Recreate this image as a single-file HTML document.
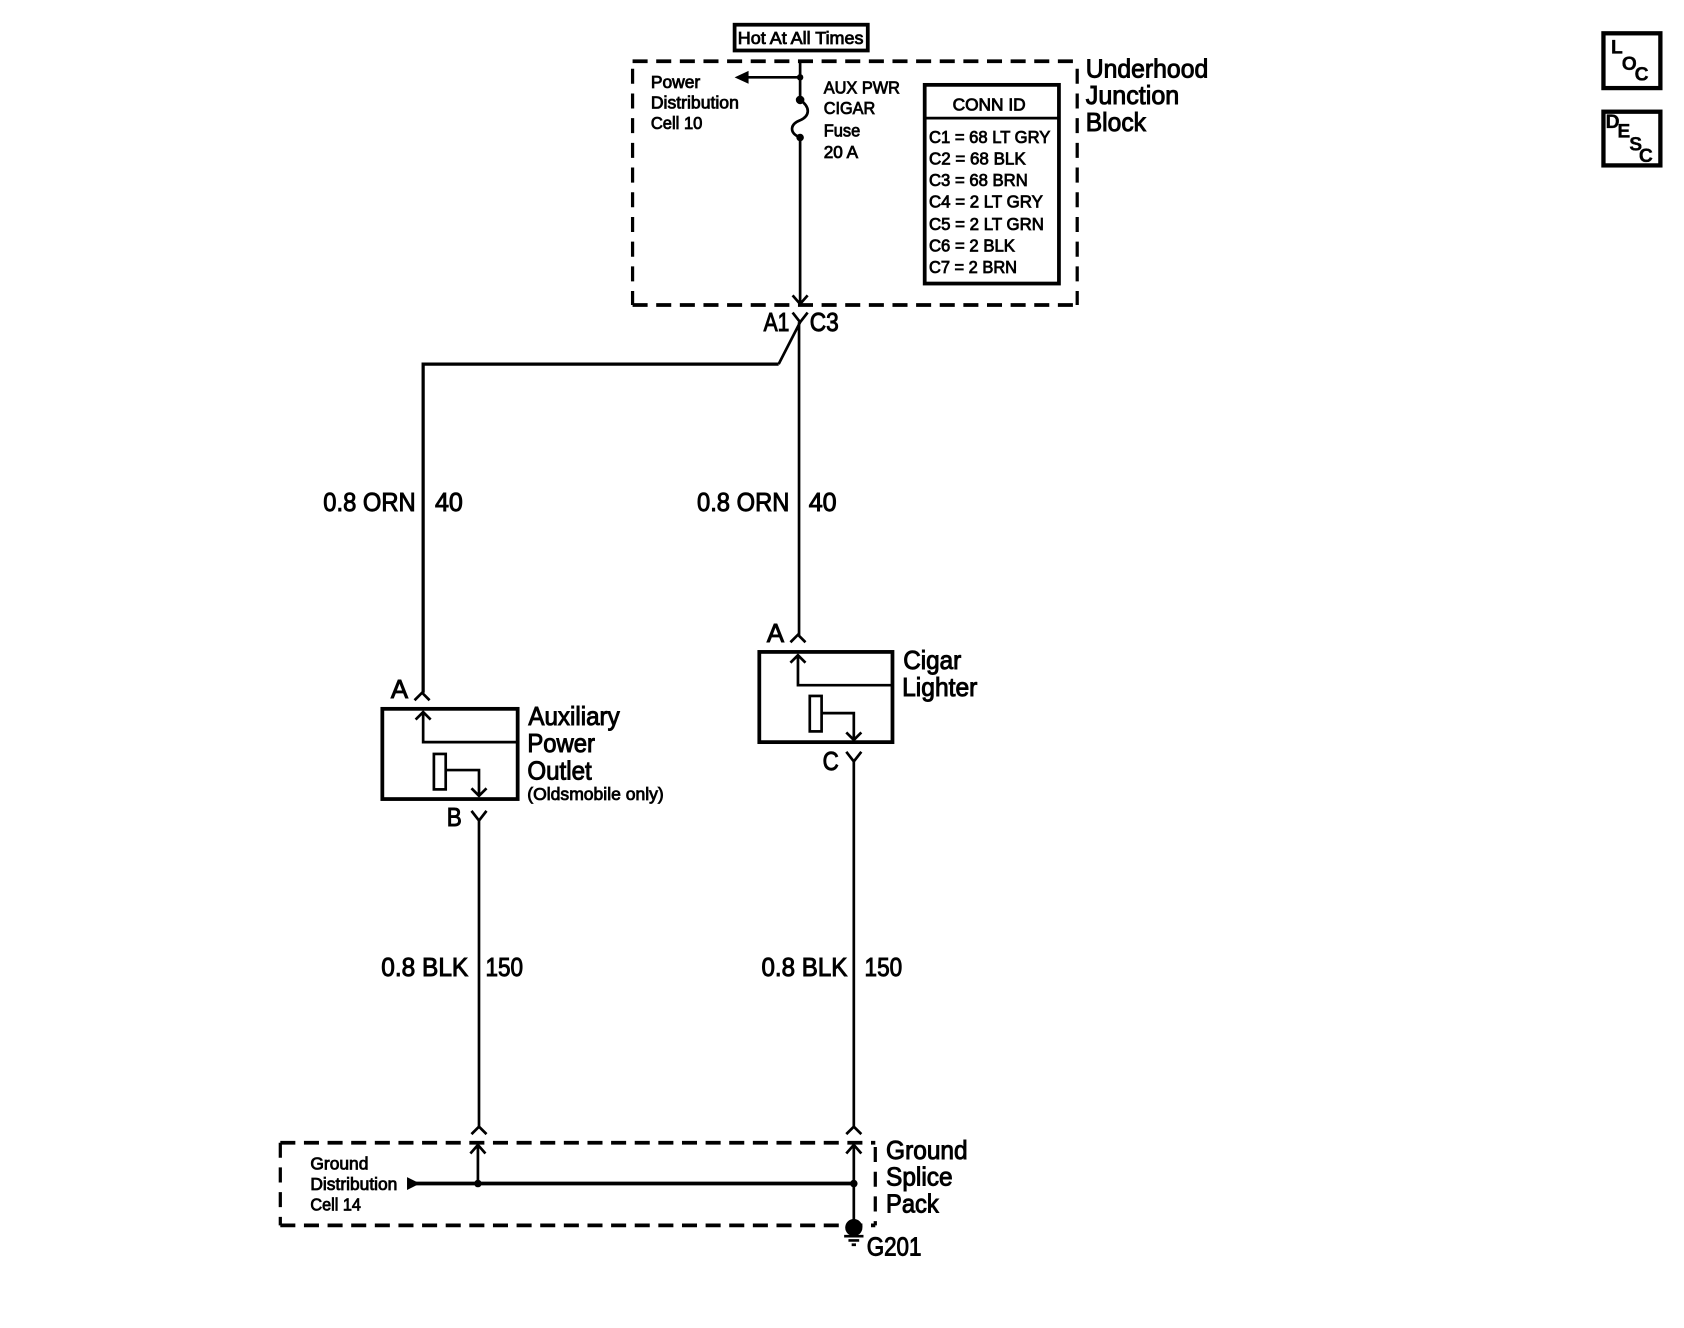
<!DOCTYPE html>
<html><head><meta charset="utf-8"><style>
html,body{margin:0;padding:0;background:#fff;width:1684px;height:1328px;overflow:hidden}
svg{display:block}
text{font-family:"Liberation Sans",sans-serif;fill:#000;stroke:#000}
.l{font-size:24px;stroke-width:.9}.s{font-size:16px;stroke-width:.75}.t{font-size:18px;font-weight:bold;stroke-width:.3}
.w{fill:none;stroke:#000;stroke-width:2.5}
.d{fill:none;stroke:#000;stroke-width:3.5;stroke-dasharray:14 8}
.e{fill:none;stroke:#000;stroke-width:3;stroke-dasharray:14 9}
.b{fill:none;stroke:#000;stroke-width:3.5}
</style></head><body>
<svg width="1684" height="1328" viewBox="0 0 1568 1236.5" xmlns="http://www.w3.org/2000/svg">
<rect x="684" y="23" width="124" height="24" class="b"/>
<text class="s" x="687" y="41" textLength="117" lengthAdjust="spacingAndGlyphs">Hot At All Times</text>
<path class="d" d="M589 57H1003M589 284H1003"/>
<path class="e" d="M589 64V284M1003 64V284"/>
<path class="w" d="M745 57V93M745 72H695M745 128V282M738 275L745 283L752 275"/>
<path d="M684 72L697 66V78Z"/>
<path class="w" d="M745 93C755 100 754 108 745 112C735 116 735 124 745 128"/>
<circle cx="745" cy="72" r="3"/><circle cx="745" cy="93" r="4"/><circle cx="745" cy="128" r="3.5"/>
<text class="s" x="606" y="82" textLength="46" lengthAdjust="spacingAndGlyphs">Power</text>
<text class="s" x="606" y="101" textLength="82" lengthAdjust="spacingAndGlyphs">Distribution</text>
<text class="s" x="606" y="120" textLength="48" lengthAdjust="spacingAndGlyphs">Cell 10</text>
<text class="s" x="767" y="87" textLength="71" lengthAdjust="spacingAndGlyphs">AUX PWR</text>
<text class="s" x="767" y="106" textLength="48" lengthAdjust="spacingAndGlyphs">CIGAR</text>
<text class="s" x="767" y="127" textLength="34" lengthAdjust="spacingAndGlyphs">Fuse</text>
<text class="s" x="767" y="147" textLength="32" lengthAdjust="spacingAndGlyphs">20 A</text>
<rect x="861" y="79" width="125" height="185" class="b"/>
<path class="w" d="M861 110H986"/>
<text class="s" x="887" y="103" textLength="68" lengthAdjust="spacingAndGlyphs">CONN ID</text>
<text class="s" x="865" y="133" textLength="113" lengthAdjust="spacingAndGlyphs">C1 = 68 LT GRY</text>
<text class="s" x="865" y="153" textLength="90" lengthAdjust="spacingAndGlyphs">C2 = 68 BLK</text>
<text class="s" x="865" y="173" textLength="92" lengthAdjust="spacingAndGlyphs">C3 = 68 BRN</text>
<text class="s" x="865" y="193" textLength="106" lengthAdjust="spacingAndGlyphs">C4 = 2 LT GRY</text>
<text class="s" x="865" y="214" textLength="107" lengthAdjust="spacingAndGlyphs">C5 = 2 LT GRN</text>
<text class="s" x="865" y="234" textLength="80" lengthAdjust="spacingAndGlyphs">C6 = 2 BLK</text>
<text class="s" x="865" y="254" textLength="82" lengthAdjust="spacingAndGlyphs">C7 = 2 BRN</text>
<text class="l" x="1011" y="72" textLength="114" lengthAdjust="spacingAndGlyphs">Underhood</text>
<text class="l" x="1011" y="97" textLength="87" lengthAdjust="spacingAndGlyphs">Junction</text>
<text class="l" x="1011" y="122" textLength="56" lengthAdjust="spacingAndGlyphs">Block</text>
<text class="l" x="711" y="308" textLength="24" lengthAdjust="spacingAndGlyphs">A1</text>
<text class="l" x="754" y="308" textLength="27" lengthAdjust="spacingAndGlyphs">C3</text>
<path class="w" d="M738 291L745 300L752 291M745 300L725 339M744 300V592"/>
<path class="b" style="stroke-width:3" d="M725 339H394V645"/>
<text class="l" x="301" y="476" textLength="86" lengthAdjust="spacingAndGlyphs">0.8 ORN</text>
<text class="l" x="405" y="476" textLength="26" lengthAdjust="spacingAndGlyphs">40</text>
<text class="l" x="649" y="476" textLength="86" lengthAdjust="spacingAndGlyphs">0.8 ORN</text>
<text class="l" x="753" y="476" textLength="26" lengthAdjust="spacingAndGlyphs">40</text>
<text class="l" x="364" y="650" textLength="16" lengthAdjust="spacingAndGlyphs">A</text>
<path class="w" d="M386 652L393 645L400 652"/>
<rect x="356" y="660" width="126" height="84" class="b"/>
<path class="w" d="M394 664V691H482M387 670L394 663L401 670"/>
<rect x="404" y="702" width="11" height="33" class="w"/>
<path class="w" d="M415 717H446V741M439 734L446 741L453 734"/>
<text class="l" x="492" y="675" textLength="85" lengthAdjust="spacingAndGlyphs">Auxiliary</text>
<text class="l" x="491" y="700" textLength="63" lengthAdjust="spacingAndGlyphs">Power</text>
<text class="l" x="491" y="726" textLength="60" lengthAdjust="spacingAndGlyphs">Outlet</text>
<text class="s" x="491" y="745" textLength="127" lengthAdjust="spacingAndGlyphs">(Oldsmobile only)</text>
<text class="l" x="416" y="769" textLength="14" lengthAdjust="spacingAndGlyphs">B</text>
<path class="w" d="M439 755L446 764L453 755M446 764V1050M439 1056L446 1049L453 1056"/>
<text class="l" x="355" y="909" textLength="81" lengthAdjust="spacingAndGlyphs">0.8 BLK</text>
<text class="l" x="452" y="909" textLength="35" lengthAdjust="spacingAndGlyphs">150</text>
<text class="l" x="714" y="598" textLength="16" lengthAdjust="spacingAndGlyphs">A</text>
<path class="w" d="M736 598L743 591L750 598"/>
<rect x="707" y="607" width="124" height="84" class="b"/>
<path class="w" d="M743 611V638H831M736 617L743 610L750 617"/>
<rect x="754" y="648" width="11" height="33" class="w"/>
<path class="w" d="M765 664H795V689M788 682L795 689L802 682"/>
<text class="l" x="841" y="623" textLength="54" lengthAdjust="spacingAndGlyphs">Cigar</text>
<text class="l" x="840" y="648" textLength="70" lengthAdjust="spacingAndGlyphs">Lighter</text>
<text class="l" x="766" y="717" textLength="15" lengthAdjust="spacingAndGlyphs">C</text>
<path class="w" d="M788 700L795 709L802 700M795 709V1050M788 1056L795 1049L802 1056"/>
<text class="l" x="709" y="909" textLength="80" lengthAdjust="spacingAndGlyphs">0.8 BLK</text>
<text class="l" x="805" y="909" textLength="35" lengthAdjust="spacingAndGlyphs">150</text>
<path class="d" d="M261 1064H815M261 1141H815"/>
<path class="e" d="M261 1064V1141M815 1068V1141"/>
<path class="w" d="M445 1102V1067M438 1074L445 1066L452 1074M795 1142V1067M788 1074L795 1066L802 1074"/>
<path class="b" d="M385 1102H795"/>
<path d="M379 1096L391 1102L379 1108Z"/>
<circle cx="445" cy="1102" r="3.5"/><circle cx="795" cy="1102" r="3.5"/><circle cx="795" cy="1143" r="8"/>
<path class="w" d="M786 1151H804M790 1155H800M793 1159H797"/>
<text class="s" x="289" y="1089" textLength="54" lengthAdjust="spacingAndGlyphs">Ground</text>
<text class="s" x="289" y="1108" textLength="81" lengthAdjust="spacingAndGlyphs">Distribution</text>
<text class="s" x="289" y="1127" textLength="47" lengthAdjust="spacingAndGlyphs">Cell 14</text>
<text class="l" x="825" y="1079" textLength="76" lengthAdjust="spacingAndGlyphs">Ground</text>
<text class="l" x="825" y="1104" textLength="62" lengthAdjust="spacingAndGlyphs">Splice</text>
<text class="l" x="825" y="1129" textLength="49" lengthAdjust="spacingAndGlyphs">Pack</text>
<text class="l" x="807" y="1169" textLength="51" lengthAdjust="spacingAndGlyphs">G201</text>
<rect x="1493" y="31" width="53" height="51" class="b" style="stroke-width:4"/>
<text class="t" x="1500" y="50">L</text><text class="t" x="1510" y="65">O</text><text class="t" x="1522" y="75">C</text>
<rect x="1493" y="104" width="53" height="50" class="b" style="stroke-width:4"/>
<text class="t" x="1495" y="119">D</text><text class="t" x="1506" y="128">E</text><text class="t" x="1517" y="140">S</text><text class="t" x="1526" y="151">C</text>
</svg>
</body></html>
